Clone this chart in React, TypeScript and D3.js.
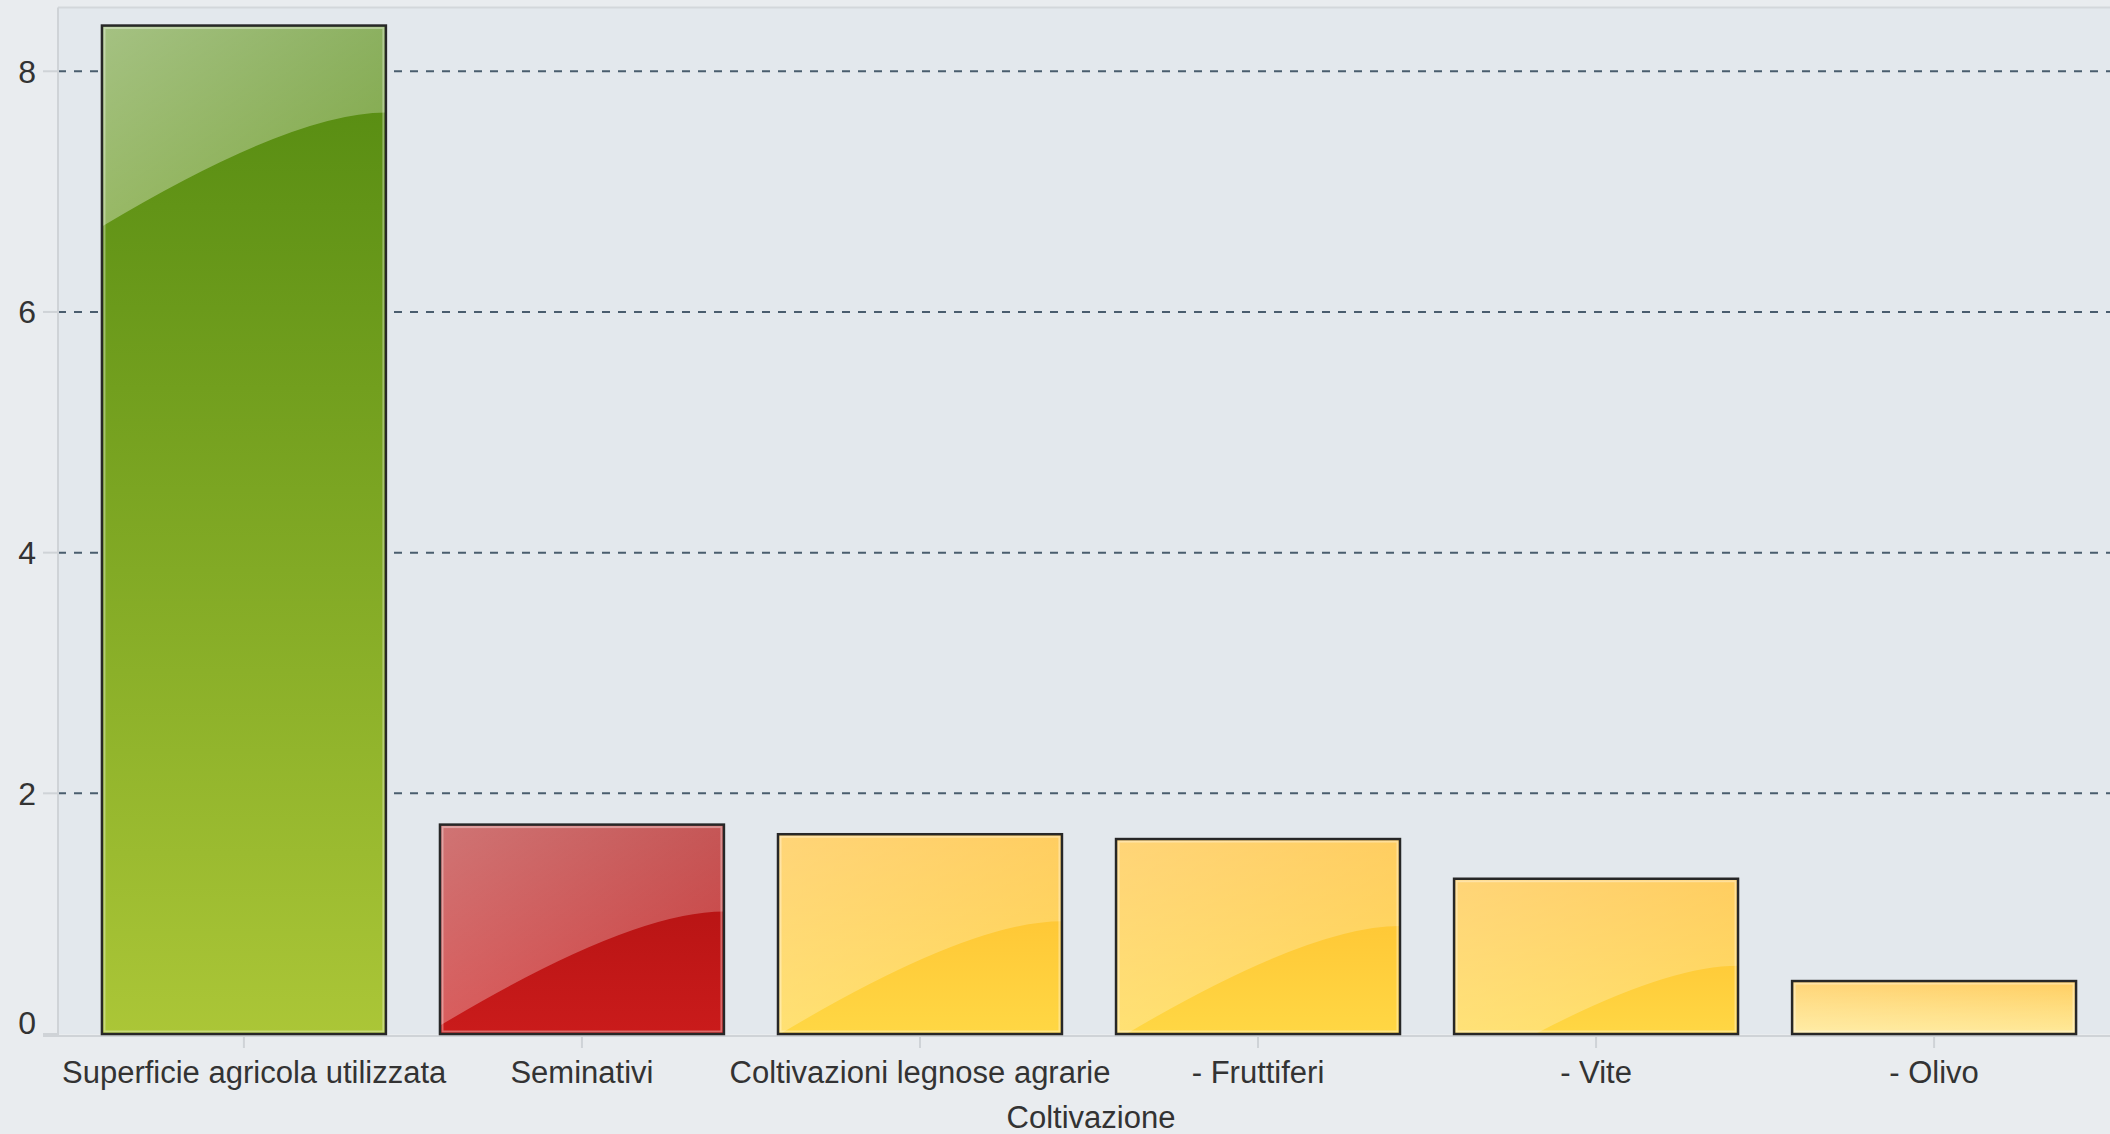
import * as d3 from "d3";

const CATEGORIES = [
  "Superficie agricola utilizzata",
  "Seminativi",
  "Coltivazioni legnose agrarie",
  "- Fruttiferi",
  "- Vite",
  "- Olivo",
];
const VALUES = [8.38, 1.74, 1.66, 1.62, 1.29, 0.44];
const Y_TICKS = [0, 2, 4, 6, 8];
const X_TITLE = "Coltivazione";

// colour family per category
const GROUPS = ["green", "red", "orange", "orange", "orange", "orange"];

const PALETTE: Record<string, { top: string; bottom: string; gloss: number }> = {
  green: { top: "#528910", bottom: "#abc637", gloss: 0.48 },
  red: { top: "#ad1010", bottom: "#ca1b1b", gloss: 0.42 },
  orange: { top: "#ffbd2c", bottom: "#ffd744", gloss: 0.36 },
};

const W = 2110;
const H = 1134;
const plot = { left: 58, right: 2124, top: 7.5, bottom: 1034 };
const FONT = "'Liberation Sans', Arial, sans-serif";

const App = () => {
  const x = d3
    .scaleBand<string>()
    .domain(CATEGORIES)
    .range([plot.left, 2120])
    .paddingInner(0.16)
    .paddingOuter(0.13);

  const y = d3.scaleLinear().domain([0, 8.53]).range([plot.bottom, plot.top]);

  const bw = x.bandwidth();

  return (
    <svg
      width={W}
      height={H}
      style={{ position: "absolute", left: 0, top: 0, fontFamily: FONT }}
    >
      <defs>
        {Object.entries(PALETTE).map(([k, c]) => (
          <g key={k}>
            <linearGradient id={`base-${k}`} x1="0" y1="0" x2="0" y2="1">
              <stop offset="0%" stopColor={c.top} />
              <stop offset="100%" stopColor={c.bottom} />
            </linearGradient>
            <linearGradient id={`gloss-${k}`} x1="0" y1="0" x2="1" y2="1">
              <stop offset="0%" stopColor="#fff" stopOpacity={c.gloss} />
              <stop offset="100%" stopColor="#fff" stopOpacity={c.gloss * 0.4} />
            </linearGradient>
          </g>
        ))}
        <linearGradient id="bottom-glow" x1="0" y1="0" x2="0" y2="1">
          <stop offset="0%" stopColor="#fff" stopOpacity={0} />
          <stop offset="100%" stopColor="#fff" stopOpacity={0.3} />
        </linearGradient>
        {CATEGORIES.map((c, i) => (
          <clipPath key={c} id={`clip-${i}`}>
            <rect
              x={x(c)!}
              y={y(VALUES[i])}
              width={bw}
              height={y(0) - y(VALUES[i])}
            />
          </clipPath>
        ))}
      </defs>

      {/* backgrounds */}
      <rect x={0} y={0} width={W} height={H} fill="#e9ecef" />
      <rect
        x={plot.left}
        y={plot.top}
        width={plot.right - plot.left}
        height={plot.bottom - plot.top}
        fill="#e3e8ed"
      />
      <line x1={plot.left} x2={W} y1={plot.top} y2={plot.top} stroke="#d3d7db" strokeWidth={2} />

      {/* gridlines */}
      {Y_TICKS.filter((t) => t > 0).map((t) => (
        <line
          key={t}
          x1={plot.left}
          x2={W}
          y1={y(t)}
          y2={y(t)}
          stroke="#4a5d6e"
          strokeWidth={2}
          strokeDasharray="8 8"
        />
      ))}

      {/* axes */}
      <line x1={plot.left} x2={plot.left} y1={plot.top} y2={plot.bottom + 2} stroke="#cfd3d7" strokeWidth={2} />
      <line x1={43} x2={W} y1={plot.bottom + 2} y2={plot.bottom + 2} stroke="#cfd3d7" strokeWidth={2} />
      {Y_TICKS.map((t) => (
        <g key={t}>
          <line x1={43} x2={plot.left} y1={y(t)} y2={y(t)} stroke="#cfd3d7" strokeWidth={2} />
          <text
            x={36}
            y={Math.min(y(t), plot.bottom - 12)}
            dy="0.36em"
            textAnchor="end"
            fontSize={32}
            fill="#333"
          >
            {t}
          </text>
        </g>
      ))}

      {/* bars */}
      {CATEGORIES.map((c, i) => {
        const x0 = x(c)!;
        const x1 = x0 + bw;
        const top = y(VALUES[i]);
        const h = y(0) - top;
        const g = GROUPS[i];
        const path = d3.path();
        path.moveTo(x0, top);
        path.lineTo(x1, top);
        path.lineTo(x1, top + 87);
        path.quadraticCurveTo(x0 + 0.67 * bw, top + 87, x0, top + 201);
        path.closePath();
        return (
          <g key={c}>
            <rect x={x0} y={top} width={bw} height={h} fill={`url(#base-${g})`} />
            <path d={path.toString()} fill={`url(#gloss-${g})`} clipPath={`url(#clip-${i})`} />
            {h < 87 && (
              <rect x={x0} y={top} width={bw} height={h} fill="url(#bottom-glow)" />
            )}
            <rect
              x={x0 + 2.5}
              y={top + 2.5}
              width={bw - 5}
              height={h - 5}
              fill="none"
              stroke="#fff"
              strokeOpacity={0.35}
              strokeWidth={2}
            />
            <rect
              x={x0}
              y={top}
              width={bw}
              height={h}
              fill="none"
              stroke="#272727"
              strokeWidth={2.5}
            />
          </g>
        );
      })}

      {/* x ticks + labels */}
      {CATEGORIES.map((c, i) => {
        const cx = x(c)! + bw / 2;
        return (
          <g key={c}>
            <line x1={cx} x2={cx} y1={plot.bottom + 2} y2={1048} stroke="#cfd3d7" strokeWidth={2} />
            <text
              x={i === 0 ? 62 : cx}
              y={1083}
              textAnchor={i === 0 ? "start" : "middle"}
              fontSize={31}
              fill="#333"
            >
              {c}
            </text>
          </g>
        );
      })}

      <text x={(plot.left + plot.right) / 2} y={1128} textAnchor="middle" fontSize={31} fill="#333">
        {X_TITLE}
      </text>
    </svg>
  );
};

export default App;
